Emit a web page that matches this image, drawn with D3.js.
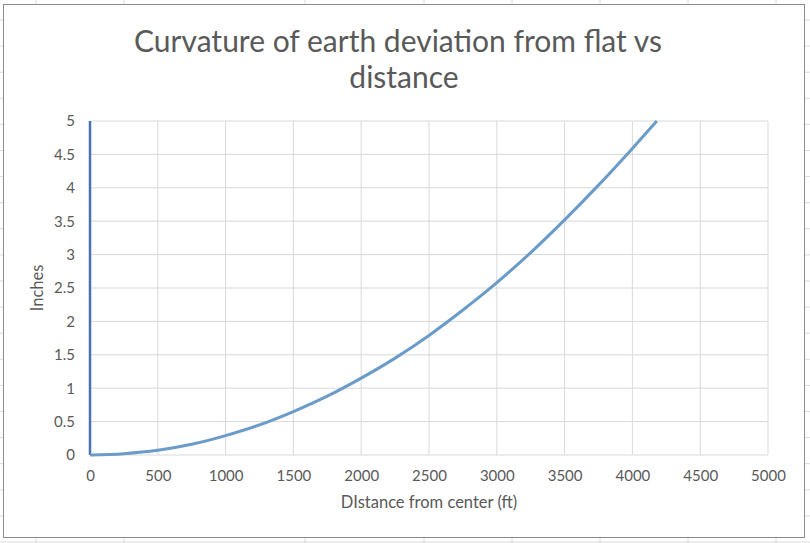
<!DOCTYPE html>
<html>
<head>
<meta charset="utf-8">
<script src="https://cdn.jsdelivr.net/npm/d3@7"></script>
<style>
  body { margin: 0; background: #fff; }
  svg { display: block; }
</style>
</head>
<body>
<svg id="chart" width="810" height="543"></svg>
<script>
// distance from center (ft) and deviation (inches)
const distance = [0, 250, 500, 750, 1000, 1250, 1500, 1750, 2000, 2250, 2500, 2750, 3000, 3250, 3500, 3750, 4000, 4180];
const inches = [0, 0.02, 0.07, 0.16, 0.29, 0.45, 0.65, 0.88, 1.15, 1.45, 1.79, 2.17, 2.58, 3.03, 3.52, 4.04, 4.59, 5.0];
// vertical edge series at x = 0
const edgeX = [0, 0];
const edgeY = [0, 5];

const xTicks = [0, 500, 1000, 1500, 2000, 2500, 3000, 3500, 4000, 4500, 5000];
const yTicks = [0, 0.5, 1, 1.5, 2, 2.5, 3, 3.5, 4, 4.5, 5];

// spreadsheet grid behind the chart object
const sheetCols = [36, 124, 305, 424, 512, 600, 688, 776];

const svg = d3.select("#chart");
const W = 810, H = 543;
const font = "Lato, 'Open Sans', sans-serif";
const textColor = "#595959";

// Background sheet gridlines
svg.selectAll(".sheet-col")
  .data(sheetCols)
  .enter().append("line")
  .attr("x1", d => d).attr("x2", d => d)
  .attr("y1", 0).attr("y2", H)
  .attr("stroke", "#dadada");

svg.selectAll(".sheet-row")
  .data(d3.range(20, H, 26.1))
  .enter().append("line")
  .attr("x1", 0).attr("x2", W)
  .attr("y1", d => d).attr("y2", d => d)
  .attr("stroke", "#dadada");

// Chart object frame
svg.append("rect")
  .attr("x", 3.5).attr("y", 4.5)
  .attr("width", 801).attr("height", 533)
  .attr("fill", "#fff")
  .attr("stroke", "#8c8c8c");

const margin = { top: 121, right: 42, bottom: 88, left: 90 };
const width = W - margin.left - margin.right;
const height = H - margin.top - margin.bottom;

const xScale = d3.scaleLinear().domain([0, 5000]).range([0, width]);
const yScale = d3.scaleLinear().domain([0, 5]).range([height, 0]);

const g = svg.append("g")
  .attr("transform", "translate(" + margin.left + "," + margin.top + ")");

// Gridlines
g.selectAll(".vgrid")
  .data(xTicks)
  .enter().append("line")
  .attr("x1", d => xScale(d)).attr("x2", d => xScale(d))
  .attr("y1", 0).attr("y2", height)
  .attr("stroke", "#d9d9d9");

g.selectAll(".hgrid")
  .data(yTicks)
  .enter().append("line")
  .attr("x1", 0).attr("x2", width)
  .attr("y1", d => yScale(d)).attr("y2", d => yScale(d))
  .attr("stroke", "#d9d9d9");

// Axes (labels only, Excel style)
const xAxis = g.append("g")
  .attr("transform", "translate(0," + height + ")")
  .call(d3.axisBottom(xScale).tickValues(xTicks).tickSize(0).tickPadding(15).tickFormat(d3.format("d")));
xAxis.select(".domain").remove();
xAxis.selectAll("text")
  .attr("font-family", font).attr("font-size", 15).attr("fill", textColor);

const yAxis = g.append("g")
  .call(d3.axisLeft(yScale).tickValues(yTicks).tickSize(0).tickPadding(15).tickFormat(d => d));
yAxis.select(".domain").remove();
yAxis.selectAll("text")
  .attr("font-family", font).attr("font-size", 15).attr("fill", textColor);

// Series
const line = d3.line()
  .x(d => xScale(d[0]))
  .y(d => yScale(d[1]))
  .curve(d3.curveMonotoneX);

g.append("path")
  .datum(d3.zip(edgeX, edgeY))
  .attr("d", d3.line().x(d => xScale(d[0])).y(d => yScale(d[1])))
  .attr("fill", "none")
  .attr("stroke", "#4a72b2")
  .attr("stroke-width", 2.5);

g.append("path")
  .datum(d3.zip(distance, inches))
  .attr("d", line)
  .attr("fill", "none")
  .attr("stroke", "#6b9bc8")
  .attr("stroke-width", 3);

// Titles
svg.append("text")
  .attr("x", 398).attr("y", 52)
  .attr("text-anchor", "middle")
  .attr("font-family", font).attr("font-size", 30)
  .attr("fill", textColor)
  .text("Curvature of earth deviation from flat vs");

svg.append("text")
  .attr("x", 404).attr("y", 88)
  .attr("text-anchor", "middle")
  .attr("font-family", font).attr("font-size", 30)
  .attr("fill", textColor)
  .text("distance");

svg.append("text")
  .attr("x", margin.left + width / 2).attr("y", 508)
  .attr("text-anchor", "middle")
  .attr("font-family", font).attr("font-size", 16.5)
  .attr("fill", textColor)
  .text("DIstance from center (ft)");

svg.append("text")
  .attr("transform", "translate(43," + (margin.top + height / 2) + ") rotate(-90)")
  .attr("text-anchor", "middle")
  .attr("font-family", font).attr("font-size", 16.5)
  .attr("fill", textColor)
  .text("Inches");
</script>
</body>
</html>
